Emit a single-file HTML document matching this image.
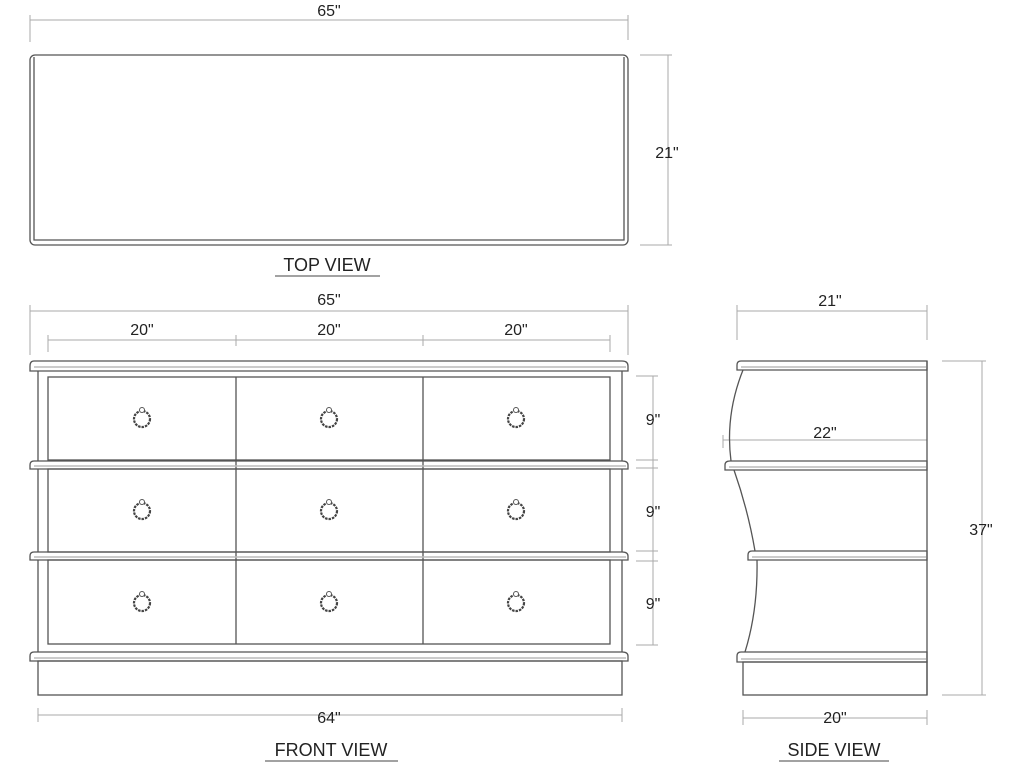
<!DOCTYPE html>
<html><head><meta charset="utf-8"><style>
html,body{margin:0;padding:0;background:#fff;width:1024px;height:768px;overflow:hidden}
svg{display:block}
text{font-family:"Liberation Sans",sans-serif;fill:#222}
</style></head><body>
<svg width="1024" height="768" viewBox="0 0 1024 768" xmlns="http://www.w3.org/2000/svg">
<g stroke="#aaa" stroke-width="1" fill="none">
<line x1="30" y1="20" x2="628" y2="20"/><line x1="30" y1="15" x2="30" y2="42"/><line x1="628" y1="15" x2="628" y2="40"/>
<line x1="668" y1="55" x2="668" y2="245"/><line x1="640" y1="55" x2="672" y2="55"/><line x1="640" y1="245" x2="672" y2="245"/>
<line x1="30" y1="311" x2="628" y2="311"/><line x1="30" y1="305" x2="30" y2="355"/><line x1="628" y1="305" x2="628" y2="355"/>
<line x1="48" y1="340" x2="610" y2="340"/><line x1="48" y1="335" x2="48" y2="352"/><line x1="236" y1="335" x2="236" y2="346"/><line x1="423" y1="335" x2="423" y2="346"/><line x1="610" y1="335" x2="610" y2="352"/>
<line x1="653" y1="376" x2="653" y2="645"/>
<line x1="636" y1="376" x2="658" y2="376"/><line x1="636" y1="460" x2="658" y2="460"/><line x1="636" y1="468" x2="658" y2="468"/><line x1="636" y1="551" x2="658" y2="551"/><line x1="636" y1="561" x2="658" y2="561"/><line x1="636" y1="645" x2="658" y2="645"/>
<line x1="38" y1="715" x2="622" y2="715"/><line x1="38" y1="708" x2="38" y2="722"/><line x1="622" y1="708" x2="622" y2="722"/>
<line x1="737" y1="311" x2="927" y2="311"/><line x1="737" y1="305" x2="737" y2="340"/><line x1="927" y1="305" x2="927" y2="340"/>
<line x1="723" y1="440" x2="927" y2="440"/><line x1="723" y1="435" x2="723" y2="448"/>
<line x1="982" y1="361" x2="982" y2="695"/><line x1="942" y1="361" x2="986" y2="361"/><line x1="942" y1="695" x2="986" y2="695"/>
<line x1="743" y1="718" x2="927" y2="718"/><line x1="743" y1="710" x2="743" y2="725"/><line x1="927" y1="710" x2="927" y2="725"/>
</g>
<g stroke="#555" stroke-width="1.3" fill="none">
<rect x="30" y="55" width="598" height="190" rx="5"/>
<path d="M34 57 V240 H624 V57"/>
<path d="M34 361 H622 Q628 361 628 366 V371 H30 V366 Q30 361 34 361 Z"/>
<line x1="38" y1="371" x2="38" y2="461"/><line x1="622" y1="371" x2="622" y2="461"/>
<rect x="48" y="377" width="562" height="83"/>
<path d="M34 461 H622 Q628 461 628 465 V469 H30 V465 Q30 461 34 461 Z"/>
<line x1="38" y1="469" x2="38" y2="552"/><line x1="622" y1="469" x2="622" y2="552"/>
<rect x="48" y="469" width="562" height="83"/>
<path d="M34 552 H622 Q628 552 628 556 V560 H30 V556 Q30 552 34 552 Z"/>
<line x1="38" y1="560" x2="38" y2="652"/><line x1="622" y1="560" x2="622" y2="652"/>
<rect x="48" y="560" width="562" height="84"/>
<path d="M34 652 H622 Q628 652 628 656 V661 H30 V656 Q30 652 34 652 Z"/>
<rect x="38" y="661" width="584" height="34"/>
<line x1="236" y1="377" x2="236" y2="644"/><line x1="423" y1="377" x2="423" y2="644"/>
<path d="M741 361 H927 V370 H737 V365 Q737 361 741 361 Z"/>
<path d="M730 461 H927 V470 H725 V465 Q725 461 730 461 Z"/>
<path d="M752 551 H927 V560 H748 V555 Q748 551 752 551 Z"/>
<path d="M741 652 H927 V662 H737 V656 Q737 652 741 652 Z"/>
<rect x="743" y="662" width="184" height="33"/>
<line x1="927" y1="361" x2="927" y2="695"/>
<path d="M743 370 Q725 415 731 461"/>
<path d="M734 470 Q748 510 755 551"/>
<path d="M757 560 Q758 610 745 652"/>
</g>
<g stroke="#bbb" stroke-width="1.5">
<line x1="34" y1="367" x2="626" y2="367"/><line x1="34" y1="466" x2="626" y2="466"/><line x1="34" y1="557" x2="626" y2="557"/><line x1="34" y1="658" x2="626" y2="658"/>
<line x1="741" y1="367" x2="926" y2="367"/><line x1="729" y1="467" x2="926" y2="467"/><line x1="752" y1="557" x2="926" y2="557"/><line x1="741" y1="659" x2="926" y2="659"/>
</g>
<g stroke="#444" stroke-width="2.2" fill="none" stroke-dasharray="2.5 1">
<circle cx="142" cy="419" r="8"/><circle cx="329" cy="419" r="8"/><circle cx="516" cy="419" r="8"/>
<circle cx="142" cy="511" r="8"/><circle cx="329" cy="511" r="8"/><circle cx="516" cy="511" r="8"/>
<circle cx="142" cy="603" r="8"/><circle cx="329" cy="603" r="8"/><circle cx="516" cy="603" r="8"/>
</g>
<g fill="#fff" stroke="#555" stroke-width="1">
<circle cx="142" cy="410" r="2.5"/><circle cx="329" cy="410" r="2.5"/><circle cx="516" cy="410" r="2.5"/>
<circle cx="142" cy="502" r="2.5"/><circle cx="329" cy="502" r="2.5"/><circle cx="516" cy="502" r="2.5"/>
<circle cx="142" cy="594" r="2.5"/><circle cx="329" cy="594" r="2.5"/><circle cx="516" cy="594" r="2.5"/>
</g>
<g font-size="16" text-anchor="middle">
<text x="329" y="16">65"</text>
<text x="667" y="158">21"</text>
<text x="329" y="305">65"</text>
<text x="142" y="335">20"</text><text x="329" y="335">20"</text><text x="516" y="335">20"</text>
<text x="653" y="425">9"</text><text x="653" y="517">9"</text><text x="653" y="609">9"</text>
<text x="329" y="723">64"</text>
<text x="830" y="306">21"</text>
<text x="825" y="438">22"</text>
<text x="981" y="535">37"</text>
<text x="835" y="723">20"</text>
</g>
<g font-size="18" text-anchor="middle">
<text x="327" y="271">TOP  VIEW</text>
<text x="331" y="756">FRONT  VIEW</text>
<text x="834" y="756">SIDE  VIEW</text>
</g>
<g stroke="#444" stroke-width="1">
<line x1="275" y1="276" x2="380" y2="276"/>
<line x1="265" y1="761" x2="398" y2="761"/>
<line x1="779" y1="761" x2="889" y2="761"/>
</g>
</svg>
</body></html>
